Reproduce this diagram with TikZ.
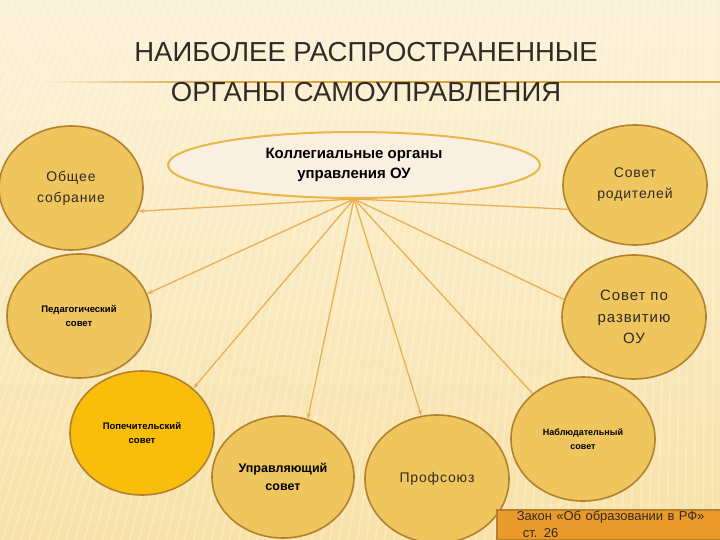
\documentclass[tikz,border=0pt]{standalone}
\usepackage{fontspec}
\setmainfont{Liberation Sans}
\newfontfamily\wide[LetterSpace=6]{Liberation Sans}
\usetikzlibrary{shapes.geometric,positioning,arrows.meta}
\definecolor{paper}{HTML}{F8E2A8}
\definecolor{paperlight}{HTML}{FCF2D8}
\definecolor{gold}{HTML}{EFC55E}
\definecolor{goldrim}{HTML}{B3812E}
\definecolor{amber}{HTML}{F9BE0C}
\definecolor{cream}{HTML}{FAF0E2}
\definecolor{creamrim}{HTML}{E9B648}
\definecolor{spoke}{HTML}{EBAF55}
\definecolor{rule}{HTML}{D9A140}
\definecolor{ink}{HTML}{302B26}
\definecolor{lawfill}{HTML}{E99A2B}
\tikzset{
  organ/.style={ellipse,draw=goldrim,line width=1.6pt,fill=gold,
    minimum width=144pt,minimum height=124pt,inner sep=0pt,align=center,text=ink},
  tiny/.style={font=\fontsize{9.5}{14}\selectfont\bfseries,text=black},
  plain/.style={font=\wide\fontsize{14}{21}\selectfont},
  spokes/.style={draw=spoke,line width=1.3pt,>={Stealth[length=6pt,width=4.5pt]}},
  lawbox/.style={draw=goldrim,fill=lawfill,line width=1.5pt,anchor=north west,
    text width=200pt,minimum height=30pt,inner xsep=20pt,inner ysep=0pt,align=left,
    text=ink,font=\fontsize{13}{17}\selectfont},
}

\begin{document}
\begin{tikzpicture}[x=1pt,y=-1pt]
                   \useasboundingbox (0,0) rectangle (720,540);
                   \clip (0,0) rectangle (720,540);
                   % background
                   \shade[top color=paperlight,bottom color=paper] (0,0) rectangle (720,540);
                   \foreach \x in {0,7,...,728}
                     \draw[white,opacity=0.28,line width=1.6pt] (\x,0) -- ({\x+(\x-720)*0.3},540);
                   \shade[left color=paperlight,right color=rule] (40,81.3) rectangle (220,82.7);
                   \fill[rule] (220,81.3) rectangle (720,82.7);
                   \node[text=ink,align=center,font=\fontsize{27.5}{40}\selectfont] (title) at (366,72)
                        {НАИБОЛЕЕ РАСПРОСТРАНЕННЫЕ\\ОРГАНЫ САМОУПРАВЛЕНИЯ};

                   \node[ellipse,draw=creamrim,line width=2pt,fill=cream,minimum width=372pt,
                         minimum height=66pt,align=center,font=\fontsize{15}{20}\selectfont\bfseries]
                         (koll) at (354,165) {Коллегиальные органы\\управления ОУ};
                   \node[organ,plain] (obsh) at (71,188) {Общее\\собрание};
                   \node[organ,tiny] (ped) at (79,316) {Педагогический\\совет};
                   \node[organ,tiny,fill=amber] (popech) at (142,433) {Попечительский\\совет};
                   \node[organ,font=\fontsize{12.5}{18}\selectfont\bfseries,text=black,
                         minimum width=142pt,minimum height=122pt] (uprav) at (283,477) {Управляющий\\совет};
                   \node[organ,plain,minimum height=128pt] (prof) at (437,479) {Профсоюз};
                   \node[organ,tiny,font=\fontsize{9}{14}\selectfont\bfseries] (nabl) at (583,439) {Наблюдательный\\совет};
                   \node[organ,plain,font=\wide\fontsize{15}{21.5}\selectfont] (razv) at (634,317) {Совет по\\развитию\\ОУ};
                   \node[organ,plain,minimum height=120pt] (rod) at (635,185) {Совет\\родителей};

                    \path[spokes]
                    (koll.south) edge [->] (obsh.-19)
                                 edge (rod.200)
                                 edge [->] (ped.18)
                                 edge (razv.166)
                                 edge [->] (popech.41)
                                 edge [->] (uprav.67)
                                 edge [->] (prof.104)
                                 edge (nabl.138);

                   \node[lawbox] (zakon) at (496,509)
                        {Закон «Об образовании в РФ»\\\hspace*{6pt}ст. 26};
                \end{tikzpicture}
\end{document}
